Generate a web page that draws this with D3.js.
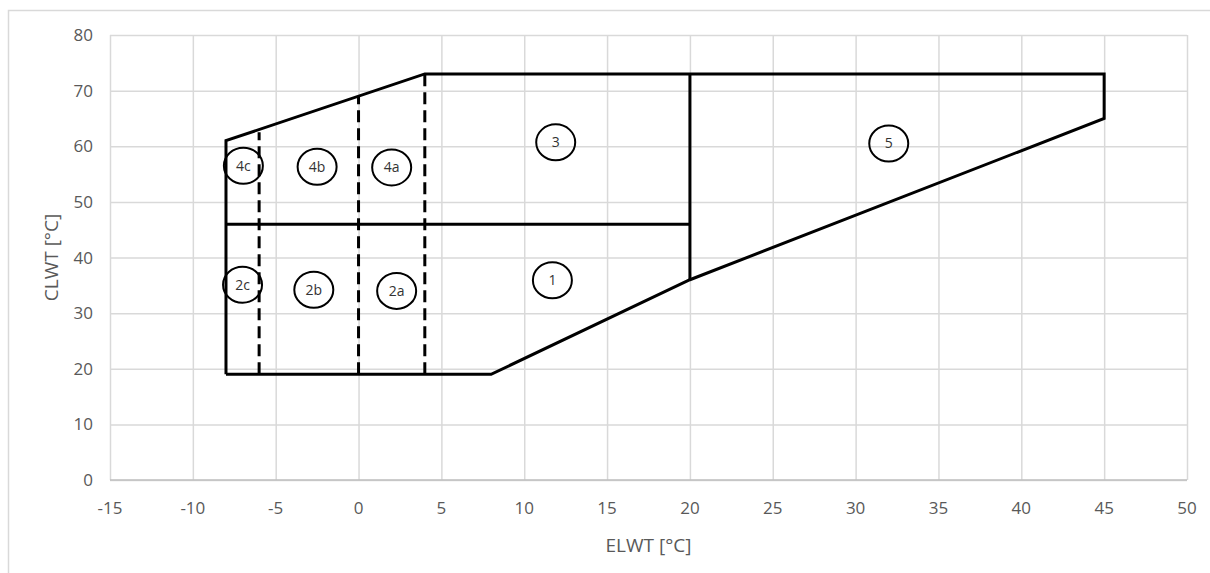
<!DOCTYPE html>
<html>
<head>
<meta charset="utf-8">
<script src="https://cdn.jsdelivr.net/npm/d3@7"></script>
<style>
  body { margin: 0; background: #fff; }
  text { font-family: "Open Sans", sans-serif; }
</style>
</head>
<body>
<svg id="chart" width="1210" height="573"></svg>
<script>
// operating envelope outline (ELWT, CLWT)
var outline = [[-8, 19], [-8, 61], [4, 73], [45, 73], [45, 65], [20, 36], [8, 19], [-8, 19]];
// inner solid borders
var solidLines = [
    [[20, 36], [20, 73]],
    [[-8, 46], [20, 46]]
];
// dashed borders
var dashedLines = [
    [[-6, 19], [-6, 62.5]],
    [[0, 19], [0, 69]],
    [[4, 19], [4, 73]]
];
// zone labels
var zoneNames = ['4c', '4b', '4a', '3', '5', '2c', '2b', '2a', '1'];
var zoneX = [-6.95, -2.5, 2.0, 11.9, 32.0, -7.0, -2.7, 2.3, 11.7];
var zoneY = [56.5, 56.3, 56.2, 60.7, 60.5, 35.1, 34.2, 34.0, 35.9];

var xTicks = d3.range(-15, 51, 5);
var yTicks = d3.range(0, 81, 10);

var svg = d3.select('#chart');
var plot = { l: 110, r: 1187, t: 35, b: 480 };

var x = d3.scaleLinear().domain([-15, 50]).range([plot.l, plot.r]);
var y = d3.scaleLinear().domain([0, 80]).range([plot.b, plot.t]);

// chart area border
svg.append('rect')
    .attr('x', 8.5).attr('y', 10.5)
    .attr('width', 1250).attr('height', 700)
    .attr('fill', 'none')
    .attr('stroke', '#d9d9d9')
    .attr('stroke-width', 1.5);

// grid
svg.append('g')
    .attr('transform', 'translate(0,' + plot.b + ')')
    .call(d3.axisBottom(x).tickValues(xTicks).tickSize(-(plot.b - plot.t)).tickFormat(''))
    .call(function (g) {
        g.select('.domain').remove();
        g.selectAll('line').attr('stroke', '#d9d9d9').attr('stroke-width', 1.5);
    });
svg.append('g')
    .attr('transform', 'translate(' + plot.l + ',0)')
    .call(d3.axisLeft(y).tickValues(yTicks).tickSize(-(plot.r - plot.l)).tickFormat(''))
    .call(function (g) {
        g.select('.domain').remove();
        g.selectAll('line').attr('stroke', '#d9d9d9').attr('stroke-width', 1.5);
    });

// x axis line + labels
svg.append('line')
    .attr('x1', plot.l).attr('x2', plot.r)
    .attr('y1', plot.b).attr('y2', plot.b)
    .attr('stroke', '#bfbfbf').attr('stroke-width', 1.5);

svg.append('g')
    .selectAll('text')
    .data(xTicks)
    .enter()
    .append('text')
    .attr('x', function (d) { return x(d); })
    .attr('y', 514)
    .attr('text-anchor', 'middle')
    .style('font-size', '17px')
    .style('fill', '#595959')
    .text(function (d) { return d; });

svg.append('g')
    .selectAll('text')
    .data(yTicks)
    .enter()
    .append('text')
    .attr('x', 93)
    .attr('y', function (d) { return y(d) + 6; })
    .attr('text-anchor', 'end')
    .style('font-size', '17px')
    .style('fill', '#595959')
    .text(function (d) { return d; });

// axis titles
svg.append('text')
    .attr('x', (plot.l + plot.r) / 2)
    .attr('y', 552)
    .attr('text-anchor', 'middle')
    .style('font-size', '19px')
    .style('fill', '#595959')
    .text('ELWT [°C]');

svg.append('text')
    .attr('transform', 'translate(' + [58, (plot.t + plot.b) / 2] + ') rotate(-90)')
    .attr('text-anchor', 'middle')
    .style('font-size', '19px')
    .style('fill', '#595959')
    .text('CLWT [°C]');

var line = d3.line()
    .x(function (d) { return x(d[0]); })
    .y(function (d) { return y(d[1]); });

// envelope
svg.append('path')
    .attr('d', line(outline))
    .attr('fill', 'none')
    .attr('stroke', '#000')
    .attr('stroke-width', 3)
    .attr('stroke-linejoin', 'miter');

svg.selectAll('.solid')
    .data(solidLines)
    .enter()
    .append('path')
    .attr('class', 'solid')
    .attr('d', line)
    .attr('fill', 'none')
    .attr('stroke', '#000')
    .attr('stroke-width', 3);

svg.selectAll('.dashed')
    .data(dashedLines)
    .enter()
    .append('path')
    .attr('class', 'dashed')
    .attr('d', line)
    .attr('fill', 'none')
    .attr('stroke', '#000')
    .attr('stroke-width', 3)
    .attr('stroke-dasharray', '12,6');

// zone markers
var zones = svg.selectAll('.zone')
    .data(zoneNames)
    .enter()
    .append('g')
    .attr('class', 'zone')
    .attr('transform', function (d, i) {
        return 'translate(' + [x(zoneX[i]), y(zoneY[i])] + ')';
    });

zones.append('ellipse')
    .attr('rx', 19.5)
    .attr('ry', 18)
    .attr('fill', 'none')
    .attr('stroke', '#000')
    .attr('stroke-width', 2);

zones.append('text')
    .attr('text-anchor', 'middle')
    .attr('y', 5)
    .style('font-size', '14px')
    .style('fill', '#333')
    .text(function (d) { return d; });
</script>
</body>
</html>
